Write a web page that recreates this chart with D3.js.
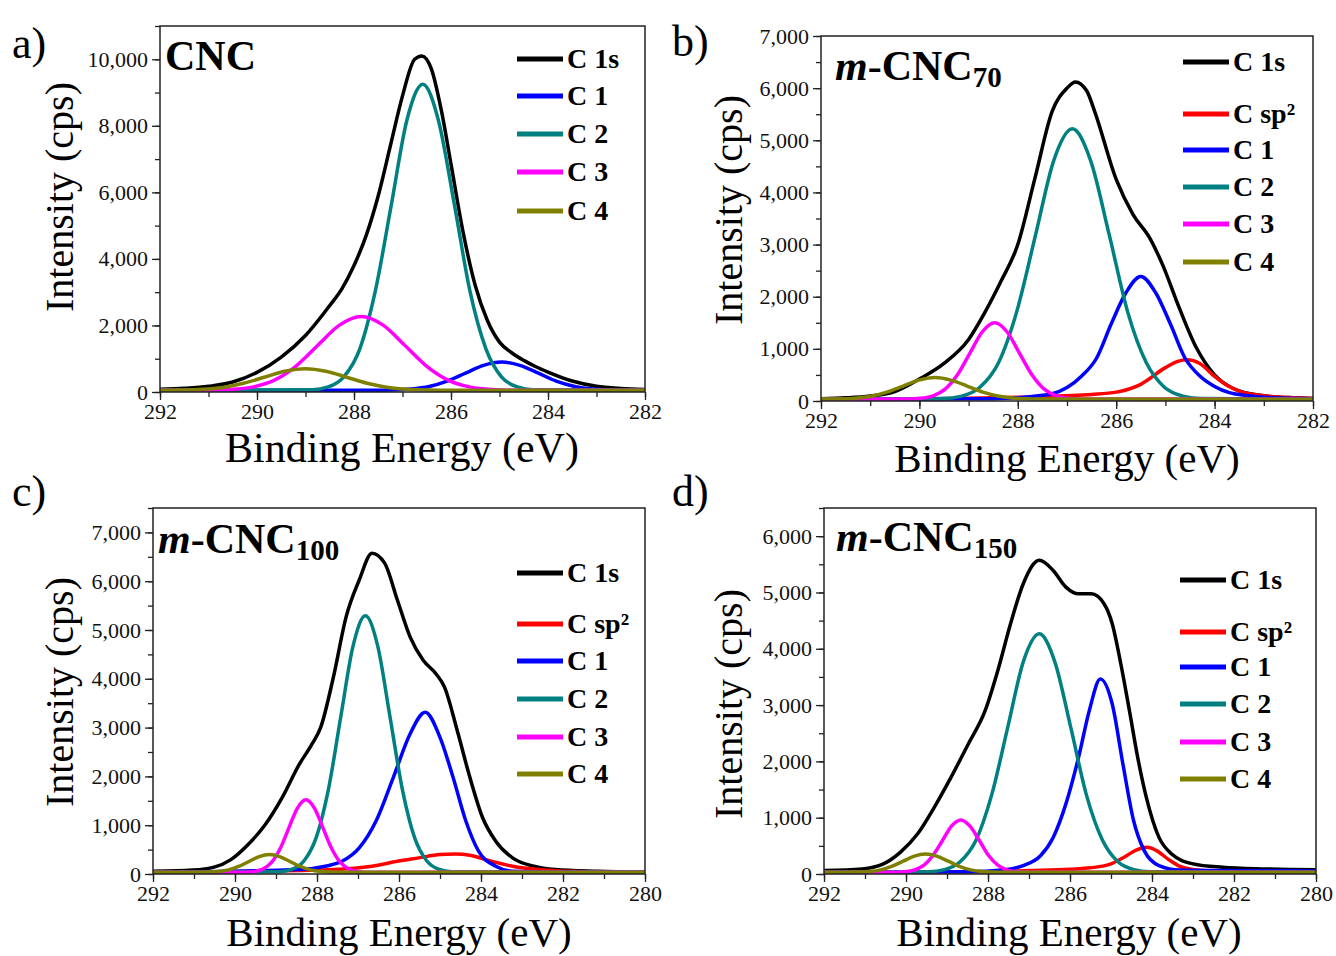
<!DOCTYPE html>
<html>
<head>
<meta charset="utf-8">
<script src="https://cdn.jsdelivr.net/npm/d3@7"></script>
<style>
  body { margin: 0; background: #fff; }
  svg { display: block; }
</style>
</head>
<body>
<div id="chart"></div>
<script>
(function() {
  const cncC1s = [[292,80],[291.5,110],[291,170],[290.5,300],[290,590],[289.5,1050],[289,1700],[288.5,2600],[288.25,3100],[288,3800],[287.75,4700],[287.5,5900],[287.25,7400],[287,8900],[286.75,10000],[286.6,10100],[286.4,9690],[286.2,8470],[286,6850],[285.75,4800],[285.5,3200],[285.25,2150],[285,1500],[284.75,1180],[284.5,950],[284.25,760],[284,600],[283.5,330],[283,170],[282.5,105],[282,75]]
  const cncC1 = [[292,50],[287.58,52],[287.2,59],[286.83,87],[286.45,165],[286.08,326],[285.7,566],[285.33,800],[284.95,900],[284.58,800],[284.2,566],[283.83,326],[283.45,165],[283.08,87],[282.7,59],[282.33,52],[282,51]]
  const cncC2 = [[292,50],[288.86,70],[288.53,152],[288.21,454],[287.88,1295],[287.56,3037],[287.23,5630],[286.91,8169],[286.58,9250],[286.26,8169],[285.93,5630],[285.61,3037],[285.28,1295],[284.96,454],[284.63,152],[284.31,70],[282,50]]
  const cncC3 = [[292,50],[291,55],[290.55,75],[290.1,147],[289.65,350],[289.2,771],[288.75,1396],[288.3,2009],[287.85,2270],[287.4,2009],[286.95,1396],[286.5,771],[286.05,350],[285.6,147],[285.15,75],[284.7,55],[282,50]]
  const cncC4 = [[292,51],[291.55,57],[291.13,79],[290.7,138],[290.28,261],[289.85,444],[289.43,624],[289,700],[288.58,624],[288.15,444],[287.73,261],[287.3,138],[286.88,79],[286.45,57],[286.03,51],[282,50]]

  const cnc70C1s = [[292,45],[291.5,60],[291,95],[290.5,180],[290,420],[289.5,720],[289,1180],[288.68,1680],[288.34,2300],[288,3000],[287.65,4280],[287.3,5560],[287,6000],[286.83,6120],[286.6,5950],[286.44,5560],[286,4250],[285.66,3580],[285.32,3130],[285.06,2620],[284.72,1790],[284.37,1020],[284,500],[283.6,230],[283,100],[282.5,65],[282,50]]
  const cnc70Sp2 = [[292,35],[290,40],[288,70],[287,100],[286.5,125],[286,170],[285.5,320],[285,640],[284.75,760],[284.56,790],[284.3,720],[284,470],[283.75,300],[283.5,190],[283,100],[282.5,65],[282,50]]
  const cnc70C1 = [[292,35],[288.5,45],[288,60],[287.5,110],[287.3,140],[287,260],[286.7,480],[286.4,820],[286.1,1480],[285.8,2080],[285.5,2390],[285.2,2080],[284.9,1480],[284.6,820],[284.3,480],[284,280],[283.7,160],[283.4,110],[283,70],[282,45]]
  const cnc70C2 = [[292,35],[289.52,46],[289.14,93],[288.77,263],[288.39,737],[288.02,1719],[287.64,3180],[287.27,4611],[286.89,5220],[286.52,4611],[286.14,3180],[285.77,1719],[285.39,737],[285.02,263],[284.64,93],[284.27,46],[282,35]]
  const cnc70C3 = [[292,35],[290.22,38],[289.97,51],[289.72,99],[289.47,233],[289.22,511],[288.97,924],[288.72,1328],[288.47,1500],[288.22,1328],[287.97,924],[287.72,511],[287.47,233],[287.22,99],[286.97,51],[286.72,38],[282,35]]
  const cnc70C4 = [[292,36],[291.63,40],[291.31,53],[290.98,91],[290.66,170],[290.33,287],[290.01,401],[289.68,450],[289.36,401],[289.03,287],[288.71,170],[288.38,91],[288.06,53],[287.73,40],[287.41,36],[282,35]]

  const cnc100C1s = [[292,55],[291.03,80],[290.51,140],[290.1,295],[289.68,605],[289.26,1015],[288.85,1565],[288.43,2250],[288.12,2665],[287.91,3005],[287.6,4035],[287.29,5270],[286.97,6025],[286.66,6575],[286.35,6370],[286.04,5615],[285.73,4860],[285.41,4380],[285.1,4105],[284.89,3830],[284.58,2940],[284.27,1977],[283.96,1153],[283.64,673],[283.23,330],[282.71,158],[282.19,90],[281.15,55],[280,35]]
  const cnc100Sp2 = [[292,30],[289.47,55],[287.6,90],[286.66,160],[286.04,260],[285.52,330],[285,400],[284.63,410],[284.27,385],[283.75,260],[283.23,160],[282.6,90],[281.88,55],[280.94,35],[280,30]]
  const cnc100C1 = [[292,35],[288.43,90],[287.8,160],[287.39,260],[286.97,535],[286.56,1085],[286.14,1977],[285.73,2870],[285.36,3315],[285,2800],[284.68,1977],[284.37,1085],[284.06,467],[283.64,160],[283.23,55],[282.19,40],[280,35]]
  const cnc100C2 = [[292,35],[288.92,47],[288.62,93],[288.32,266],[288.02,746],[287.72,1741],[287.42,3222],[287.12,4673],[286.82,5290],[286.52,4673],[286.22,3222],[285.92,1741],[285.62,746],[285.32,266],[285.02,93],[284.72,47],[280,35]]
  const cnc100C3 = [[292,35],[289.74,38],[289.53,51],[289.32,100],[289.11,236],[288.9,517],[288.69,936],[288.48,1346],[288.27,1520],[288.06,1346],[287.85,936],[287.64,517],[287.43,236],[287.22,100],[287.01,51],[286.8,38],[280,35]]
  const cnc100C4 = [[292,35],[290.91,36],[290.66,39],[290.41,51],[290.16,84],[289.91,154],[289.66,256],[289.41,357],[289.16,400],[288.91,357],[288.66,256],[288.41,154],[288.16,84],[287.91,51],[287.66,39],[287.41,36],[280,35]]

  const cnc150C1s = [[292,60],[291.07,90],[290.55,180],[290.14,385],[289.72,710],[289.31,1185],[288.9,1720],[288.48,2310],[288.07,2900],[287.76,3615],[287.45,4445],[287.14,5155],[286.75,5570],[286.41,5390],[286.1,5095],[285.79,4975],[285.48,4975],[285.17,4800],[284.97,4445],[284.76,3730],[284.55,2900],[284.35,2075],[284.14,1365],[283.83,650],[283.52,355],[283,180],[282.28,120],[281.24,90],[280,75]]
  const cnc150Sp2 = [[292,30],[288,40],[287,60],[286,85],[285.5,110],[285,180],[284.7,290],[284.4,420],[284.12,475],[283.9,420],[283.6,260],[283.3,130],[283,80],[282.5,50],[281,35],[280,30]]
  const cnc150C1 = [[292,30],[288.48,40],[287.66,70],[287.14,150],[286.72,325],[286.41,650],[286.1,1245],[285.79,2075],[285.53,2900],[285.26,3465],[284.97,3020],[284.71,1955],[284.45,950],[284.19,415],[283.83,150],[283.31,70],[282.28,60],[280,55]]
  const cnc150C2 = [[292,30],[289.45,39],[289.06,77],[288.68,216],[288.29,603],[287.91,1405],[287.52,2599],[287.14,3767],[286.75,4265],[286.37,3767],[285.98,2599],[285.6,1405],[285.21,603],[284.83,216],[284.44,77],[284.06,39],[280,30]]
  const cnc150C3 = [[292,30],[290.24,32],[290.01,40],[289.79,71],[289.56,156],[289.34,332],[289.11,594],[288.89,851],[288.66,960],[288.44,851],[288.21,594],[287.99,332],[287.76,156],[287.54,71],[287.31,40],[287.09,32],[280,30]]
  const cnc150C4 = [[292,30],[291.45,31],[291.17,34],[290.9,44],[290.62,74],[290.35,136],[290.07,227],[289.8,317],[289.52,355],[289.25,317],[288.97,227],[288.7,136],[288.42,74],[288.15,44],[287.87,34],[287.6,31],[280,30]]

  const colors = {
    'C 1s': '#000000',
    'C sp²': '#ff0000',
    'C 1': '#0000ff',
    'C 2': '#008080',
    'C 3': '#ff00ff',
    'C 4': '#808000'
  }

  const serif = '"Liberation Serif", "Times New Roman", serif'

  const panels = [{
    tag: 'a)', tagPos: [12, 58],
    title: { pre: '', main: 'CNC', sub: '' }, titlePos: [165, 70],
    series: [['C 1s', cncC1s], ['C 1', cncC1], ['C 2', cncC2], ['C 3', cncC3], ['C 4', cncC4]],
    xDomain: [292, 282], yMax: 11000, yStep: 2000, yMinor: 1000,
    left: 160, right: 645, top: 26, bottom: 392,
    legendX: 517, legendY: [59, 96, 134, 172, 211],
    yTitle: [73, 197], xTitle: [402, 462], xTitleSize: 42
  }, {
    tag: 'b)', tagPos: [672, 56],
    title: { pre: 'm', main: '-CNC', sub: '70' }, titlePos: [835, 80],
    series: [['C 1s', cnc70C1s], ['C sp²', cnc70Sp2], ['C 1', cnc70C1], ['C 2', cnc70C2], ['C 3', cnc70C3], ['C 4', cnc70C4]],
    xDomain: [292, 282], yMax: 7000, yStep: 1000, yMinor: 500,
    left: 821, right: 1313, top: 36, bottom: 401,
    legendX: 1183, legendY: [62, 114, 150, 187, 224, 262],
    yTitle: [742, 210], xTitle: [1067, 472], xTitleSize: 41
  }, {
    tag: 'c)', tagPos: [12, 506],
    title: { pre: 'm', main: '-CNC', sub: '100' }, titlePos: [158, 553],
    series: [['C 1s', cnc100C1s], ['C sp²', cnc100Sp2], ['C 1', cnc100C1], ['C 2', cnc100C2], ['C 3', cnc100C3], ['C 4', cnc100C4]],
    xDomain: [292, 280], yMax: 7500, yStep: 1000, yMinor: 500,
    left: 153, right: 645, top: 508, bottom: 874,
    legendX: 517, legendY: [573, 624, 661, 699, 737, 774],
    yTitle: [73, 692], xTitle: [399, 946], xTitleSize: 41
  }, {
    tag: 'd)', tagPos: [672, 506],
    title: { pre: 'm', main: '-CNC', sub: '150' }, titlePos: [836, 551],
    series: [['C 1s', cnc150C1s], ['C sp²', cnc150Sp2], ['C 1', cnc150C1], ['C 2', cnc150C2], ['C 3', cnc150C3], ['C 4', cnc150C4]],
    xDomain: [292, 280], yMax: 6500, yStep: 1000, yMinor: 500,
    left: 824, right: 1316, top: 508, bottom: 874,
    legendX: 1180, legendY: [580, 632, 667, 704, 742, 779],
    yTitle: [742, 704], xTitle: [1069, 946], xTitleSize: 41
  }]

  const svg = d3.select('#chart').append('svg')
      .attr('width', 1336)
      .attr('height', 956)
      .attr('font-family', serif)

  const drawPanel = (p, i) => {
    const x = d3.scaleLinear().domain(p.xDomain).range([p.left, p.right])
    const y = d3.scaleLinear().domain([0, p.yMax]).range([p.bottom, p.top])
    const g = svg.append('g')

    const xMajor = d3.range(p.xDomain[0], p.xDomain[1] - 0.5, -2)
    const xMinor = d3.range(p.xDomain[0], p.xDomain[1] - 0.5, -1)
    const yMajor = d3.range(0, p.yMax + 1, p.yStep)
    const yMinor = d3.range(0, p.yMax + 1, p.yMinor)

    const clean = s => s.call(a => a.select('.domain').remove())
        .call(a => a.selectAll('line').attr('stroke', '#222').attr('stroke-width', 1.3))
    const noText = s => s.call(a => a.selectAll('text').remove())

    // minor ticks first, majors on top
    g.append('g').attr('transform', `translate(0,${p.bottom})`)
        .call(d3.axisBottom(x).tickValues(xMinor).tickSize(5)).call(clean).call(noText)
    g.append('g').attr('transform', `translate(0,${p.bottom})`)
        .call(d3.axisBottom(x).tickValues(xMajor).tickFormat(d3.format('d')).tickSize(8).tickPadding(3))
        .call(clean)
        .selectAll('text').attr('font-size', 22).attr('fill', '#111').attr('font-family', serif)

    g.append('g').attr('transform', `translate(${p.left},0)`)
        .call(d3.axisLeft(y).tickValues(yMinor).tickSize(5)).call(clean).call(noText)
    g.append('g').attr('transform', `translate(${p.left},0)`)
        .call(d3.axisLeft(y).tickValues(yMajor).tickFormat(d3.format(',')).tickSize(8).tickPadding(4))
        .call(clean)
        .selectAll('text').attr('font-size', 22).attr('fill', '#111').attr('font-family', serif)

    const clipId = 'clip' + i
    g.append('clipPath').attr('id', clipId)
      .append('rect')
        .attr('x', p.left).attr('y', p.top)
        .attr('width', p.right - p.left).attr('height', p.bottom - p.top)

    const line = d3.line()
        .x(d => x(d[0]))
        .y(d => y(d[1]))
        .curve(d3.curveMonotoneX)

    g.append('g')
        .attr('clip-path', `url(#${clipId})`)
        .attr('fill', 'none')
        .attr('stroke-width', 3.5)
        .attr('stroke-linejoin', 'round')
      .selectAll('path')
      .data(p.series)
      .enter().append('path')
        .attr('stroke', d => colors[d[0]])
        .attr('d', d => line(d[1]))

    // frame
    g.append('rect')
        .attr('x', p.left).attr('y', p.top)
        .attr('width', p.right - p.left).attr('height', p.bottom - p.top)
        .attr('fill', 'none')
        .attr('stroke', '#222')
        .attr('stroke-width', 1.5)

    // legend
    const lg = g.append('g')
      .selectAll('g')
      .data(p.series)
      .enter().append('g')
        .attr('transform', (d, k) => `translate(${p.legendX},${p.legendY[k]})`)
    lg.append('line')
        .attr('x1', 0).attr('x2', 46)
        .attr('stroke', d => colors[d[0]])
        .attr('stroke-width', 5)
    lg.append('text')
        .attr('x', 50)
        .attr('y', 9)
        .attr('font-size', 28)
        .attr('font-weight', 'bold')
        .text(d => d[0])

    // sample title
    const t = g.append('text')
        .attr('x', p.titlePos[0]).attr('y', p.titlePos[1])
        .attr('font-size', 42)
        .attr('font-weight', 'bold')
    if (p.title.pre) t.append('tspan').attr('font-style', 'italic').text(p.title.pre)
    t.append('tspan').text(p.title.main)
    if (p.title.sub) t.append('tspan').attr('font-size', 29).attr('dy', 7).text(p.title.sub)

    g.append('text')
        .attr('x', p.tagPos[0]).attr('y', p.tagPos[1])
        .attr('font-size', 44)
        .text(p.tag)

    g.append('text')
        .attr('transform', `translate(${p.yTitle[0]},${p.yTitle[1]}) rotate(-90)`)
        .attr('text-anchor', 'middle')
        .attr('font-size', 40)
        .text('Intensity (cps)')

    g.append('text')
        .attr('x', p.xTitle[0]).attr('y', p.xTitle[1])
        .attr('text-anchor', 'middle')
        .attr('font-size', p.xTitleSize)
        .text('Binding Energy (eV)')
  }

  panels.forEach(drawPanel)
})()
</script>
</body>
</html>
